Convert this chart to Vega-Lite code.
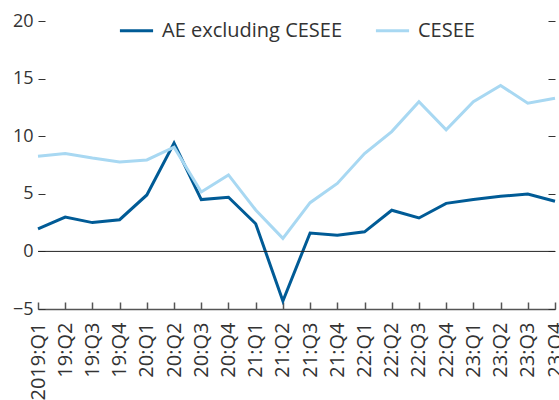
{
  "$schema": "https://vega.github.io/schema/vega-lite/v6.json",
  "width": 517,
  "height": 288,
  "autosize": "none",
  "padding": {"left": 38, "top": 21, "right": 4, "bottom": 91},
  "config": {"font": "Open Sans", "view": {"stroke": null}},
  "layer": [
    {
      "data": {
        "values": [
          {"q": "2019:Q1", "s": "AE excluding CESEE", "v": 1.95},
          {"q": "19:Q2", "s": "AE excluding CESEE", "v": 2.98},
          {"q": "19:Q3", "s": "AE excluding CESEE", "v": 2.5},
          {"q": "19:Q4", "s": "AE excluding CESEE", "v": 2.75},
          {"q": "20:Q1", "s": "AE excluding CESEE", "v": 4.9},
          {"q": "20:Q2", "s": "AE excluding CESEE", "v": 9.4},
          {"q": "20:Q3", "s": "AE excluding CESEE", "v": 4.5},
          {"q": "20:Q4", "s": "AE excluding CESEE", "v": 4.7},
          {"q": "21:Q1", "s": "AE excluding CESEE", "v": 2.4},
          {"q": "21:Q2", "s": "AE excluding CESEE", "v": -4.3},
          {"q": "21:Q3", "s": "AE excluding CESEE", "v": 1.6},
          {"q": "21:Q4", "s": "AE excluding CESEE", "v": 1.4},
          {"q": "22:Q1", "s": "AE excluding CESEE", "v": 1.7},
          {"q": "22:Q2", "s": "AE excluding CESEE", "v": 3.57},
          {"q": "22:Q3", "s": "AE excluding CESEE", "v": 2.9},
          {"q": "22:Q4", "s": "AE excluding CESEE", "v": 4.17},
          {"q": "23:Q1", "s": "AE excluding CESEE", "v": 4.5},
          {"q": "23:Q2", "s": "AE excluding CESEE", "v": 4.78},
          {"q": "23:Q3", "s": "AE excluding CESEE", "v": 4.98},
          {"q": "23:Q4", "s": "AE excluding CESEE", "v": 4.35},
          {"q": "2019:Q1", "s": "CESEE", "v": 8.26},
          {"q": "19:Q2", "s": "CESEE", "v": 8.5},
          {"q": "19:Q3", "s": "CESEE", "v": 8.1},
          {"q": "19:Q4", "s": "CESEE", "v": 7.77},
          {"q": "20:Q1", "s": "CESEE", "v": 7.94},
          {"q": "20:Q2", "s": "CESEE", "v": 9.04},
          {"q": "20:Q3", "s": "CESEE", "v": 5.16},
          {"q": "20:Q4", "s": "CESEE", "v": 6.64},
          {"q": "21:Q1", "s": "CESEE", "v": 3.6},
          {"q": "21:Q2", "s": "CESEE", "v": 1.13},
          {"q": "21:Q3", "s": "CESEE", "v": 4.23},
          {"q": "21:Q4", "s": "CESEE", "v": 5.9},
          {"q": "22:Q1", "s": "CESEE", "v": 8.5},
          {"q": "22:Q2", "s": "CESEE", "v": 10.4},
          {"q": "22:Q3", "s": "CESEE", "v": 13.0},
          {"q": "22:Q4", "s": "CESEE", "v": 10.55},
          {"q": "23:Q1", "s": "CESEE", "v": 13.0},
          {"q": "23:Q2", "s": "CESEE", "v": 14.4},
          {"q": "23:Q3", "s": "CESEE", "v": 12.87},
          {"q": "23:Q4", "s": "CESEE", "v": 13.3}
        ]
      },
      "mark": {"type": "line", "strokeWidth": 3},
      "encoding": {
        "x": {
          "field": "q",
          "type": "ordinal",
          "sort": null,
          "scale": {"type": "point", "padding": 0},
          "axis": {
            "title": null,
            "labelAngle": -90,
            "labelFontSize": 20,
            "labelColor": "#333333",
            "domainColor": "#555555",
            "domainWidth": 1.5,
            "tickColor": "#555555",
            "tickWidth": 1.5,
            "tickSize": -7,
            "labelPadding": 20,
            "labelLimit": 200
          }
        },
        "y": {
          "field": "v",
          "type": "quantitative",
          "scale": {"domain": [-5, 20], "nice": false},
          "axis": {
            "title": null,
            "domain": false,
            "grid": false,
            "values": [-5, 0, 5, 10, 15, 20],
            "tickSize": -7,
            "tickColor": "#333333",
            "labelFontSize": 18,
            "labelColor": "#333333",
            "labelPadding": 12
          }
        },
        "color": {
          "field": "s",
          "type": "nominal",
          "scale": {"domain": ["AE excluding CESEE", "CESEE"], "range": ["#005b96", "#a8d8f2"]},
          "legend": {
            "title": null,
            "orient": "none",
            "legendX": 80,
            "legendY": -9,
            "direction": "horizontal",
            "symbolType": "stroke",
            "symbolSize": 1100,
            "symbolStrokeWidth": 3,
            "labelFontSize": 20,
            "labelColor": "#333333",
            "labelOffset": 7,
            "labelLimit": 300,
            "columnPadding": 26
          }
        }
      }
    },
    {
      "data": {"values": [{"z": 0}]},
      "mark": {"type": "rule", "color": "#222222", "strokeWidth": 1},
      "encoding": {
        "y": {
          "field": "z",
          "type": "quantitative",
          "axis": {
            "orient": "right",
            "title": null,
            "labels": false,
            "domain": false,
            "grid": false,
            "values": [-5, 0, 5, 10, 15, 20],
            "tickSize": -7,
            "tickColor": "#333333"
          }
        }
      }
    }
  ],
  "resolve": {"axis": {"y": "independent"}}
}
